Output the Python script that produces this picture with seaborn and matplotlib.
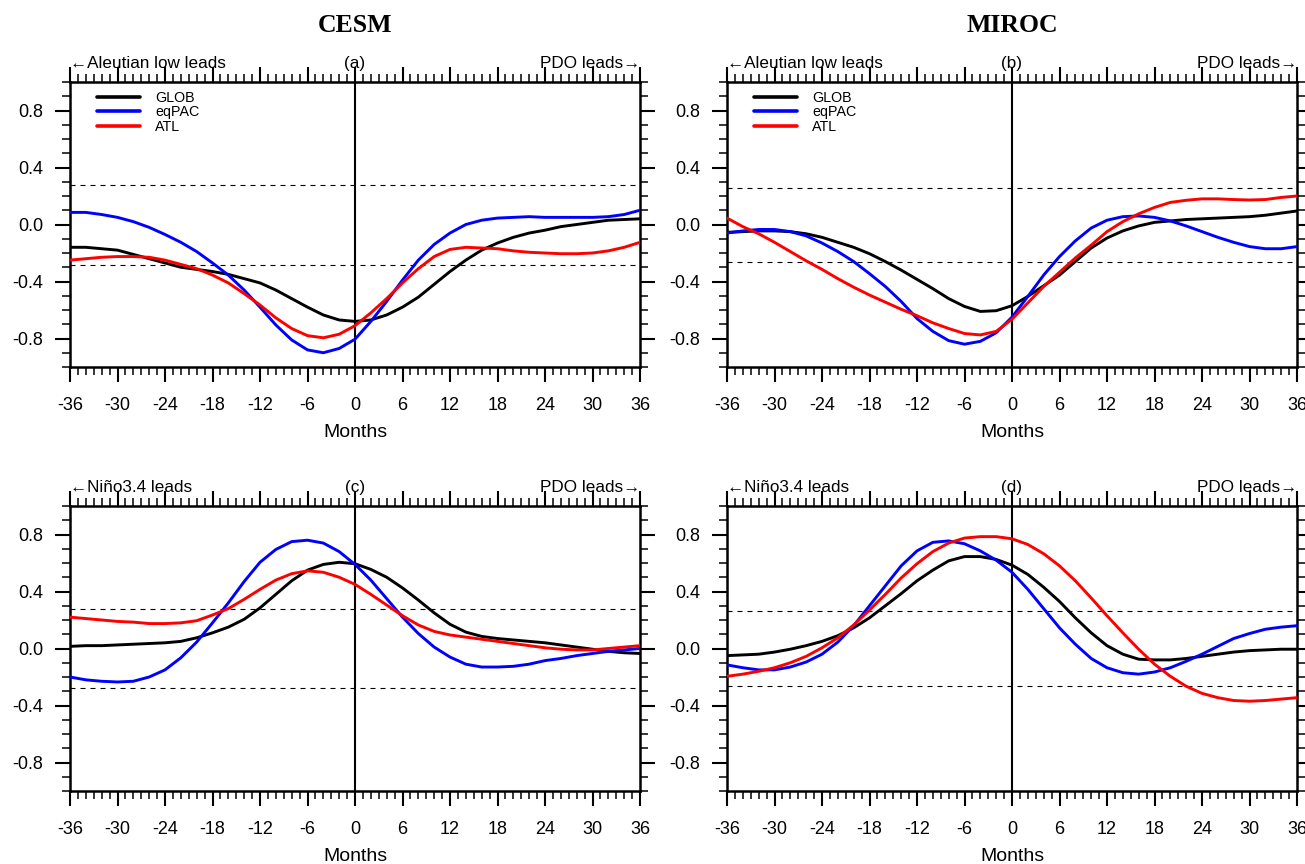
import matplotlib
matplotlib.use("Agg")
import matplotlib.pyplot as plt
import numpy as np
import pandas as pd
import seaborn as sns
from matplotlib.ticker import MultipleLocator, FormatStrFormatter

# ---------------- data ----------------
months = list(range(-36, 37, 2))
series_names = ["GLOB", "eqPAC", "ATL"]
series_colors = ["#000000", "#0000ff", "#ff0000"]

a_glob = [-0.16, -0.16, -0.17, -0.18, -0.21, -0.24, -0.27, -0.30, -0.315, -0.33, -0.35, -0.38, -0.41,
          -0.46, -0.52, -0.58, -0.635, -0.67, -0.68, -0.67, -0.635, -0.58, -0.51, -0.42, -0.33, -0.25,
          -0.18, -0.13, -0.09, -0.06, -0.04, -0.015, 0.0, 0.015, 0.03, 0.035, 0.04]
a_eqpac = [0.085, 0.085, 0.07, 0.05, 0.02, -0.02, -0.07, -0.125, -0.19, -0.27, -0.355, -0.46, -0.58,
           -0.705, -0.81, -0.88, -0.90, -0.87, -0.805, -0.68, -0.54, -0.39, -0.25, -0.14, -0.06, 0.0,
           0.03, 0.045, 0.05, 0.055, 0.05, 0.05, 0.05, 0.05, 0.055, 0.07, 0.1]
a_atl = [-0.25, -0.24, -0.23, -0.225, -0.225, -0.23, -0.25, -0.28, -0.31, -0.355, -0.41, -0.485, -0.565,
         -0.655, -0.73, -0.78, -0.795, -0.77, -0.71, -0.62, -0.52, -0.41, -0.31, -0.225, -0.175, -0.16,
         -0.165, -0.17, -0.185, -0.195, -0.2, -0.205, -0.205, -0.2, -0.185, -0.16, -0.125]

b_glob = [-0.055, -0.05, -0.045, -0.045, -0.05, -0.065, -0.09, -0.125, -0.16, -0.205, -0.26, -0.32, -0.385,
          -0.45, -0.52, -0.575, -0.61, -0.605, -0.57, -0.505, -0.43, -0.355, -0.26, -0.165, -0.095, -0.045,
          -0.01, 0.015, 0.025, 0.035, 0.04, 0.045, 0.05, 0.055, 0.065, 0.08, 0.095]
b_eqpac = [-0.06, -0.045, -0.035, -0.035, -0.05, -0.08, -0.13, -0.19, -0.26, -0.345, -0.435, -0.54, -0.66,
           -0.75, -0.815, -0.84, -0.82, -0.76, -0.65, -0.505, -0.355, -0.225, -0.115, -0.025, 0.03, 0.055,
           0.06, 0.05, 0.025, -0.01, -0.05, -0.09, -0.125, -0.155, -0.17, -0.17, -0.155]
b_atl = [0.045, -0.015, -0.065, -0.125, -0.19, -0.255, -0.315, -0.38, -0.44, -0.495, -0.545, -0.595, -0.64,
         -0.69, -0.73, -0.765, -0.775, -0.75, -0.665, -0.55, -0.435, -0.335, -0.235, -0.145, -0.05, 0.02,
         0.075, 0.12, 0.155, 0.17, 0.18, 0.18, 0.175, 0.172, 0.175, 0.19, 0.2]

c_glob = [0.015, 0.02, 0.02, 0.025, 0.03, 0.035, 0.04, 0.05, 0.075, 0.11, 0.15, 0.205, 0.285, 0.38, 0.475,
          0.55, 0.59, 0.605, 0.595, 0.555, 0.5, 0.425, 0.34, 0.25, 0.17, 0.115, 0.085, 0.07, 0.06, 0.05,
          0.04, 0.025, 0.01, -0.005, -0.02, -0.03, -0.035]
c_eqpac = [-0.2, -0.22, -0.23, -0.235, -0.23, -0.2, -0.15, -0.065, 0.045, 0.18, 0.32, 0.47, 0.605, 0.695,
           0.75, 0.76, 0.74, 0.68, 0.59, 0.48, 0.35, 0.22, 0.105, 0.01, -0.06, -0.11, -0.13, -0.13, -0.125,
           -0.11, -0.085, -0.07, -0.05, -0.035, -0.02, -0.01, 0.0]
c_atl = [0.22, 0.21, 0.2, 0.19, 0.185, 0.175, 0.175, 0.18, 0.195, 0.235, 0.28, 0.345, 0.415, 0.48, 0.525,
         0.545, 0.535, 0.5, 0.45, 0.38, 0.305, 0.23, 0.165, 0.12, 0.095, 0.08, 0.065, 0.05, 0.035, 0.02,
         0.005, -0.005, -0.01, -0.01, 0.0, 0.01, 0.02]

d_glob = [-0.05, -0.045, -0.04, -0.025, -0.005, 0.02, 0.05, 0.09, 0.145, 0.215, 0.3, 0.385, 0.475, 0.55,
          0.615, 0.645, 0.645, 0.625, 0.585, 0.52, 0.43, 0.33, 0.215, 0.11, 0.02, -0.04, -0.075, -0.08,
          -0.08, -0.07, -0.055, -0.04, -0.025, -0.015, -0.01, -0.005, -0.005]
d_eqpac = [-0.115, -0.135, -0.15, -0.15, -0.13, -0.095, -0.04, 0.045, 0.16, 0.3, 0.44, 0.58, 0.685, 0.745,
           0.755, 0.735, 0.685, 0.62, 0.535, 0.415, 0.28, 0.145, 0.03, -0.07, -0.135, -0.17, -0.18, -0.165,
           -0.135, -0.09, -0.04, 0.015, 0.07, 0.105, 0.135, 0.15, 0.16]
d_atl = [-0.195, -0.18, -0.16, -0.135, -0.1, -0.055, 0.005, 0.075, 0.165, 0.27, 0.38, 0.495, 0.595, 0.68,
         0.74, 0.775, 0.785, 0.785, 0.77, 0.73, 0.665, 0.58, 0.475, 0.355, 0.23, 0.11, -0.005, -0.11,
         -0.195, -0.265, -0.315, -0.345, -0.365, -0.37, -0.365, -0.355, -0.345]

sig_upper = [0.275, 0.255, 0.275, 0.26]
sig_lower = [-0.285, -0.265, -0.28, -0.265]

panel_tags = ["(a)", "(b)", "(c)", "(d)"]
left_labels = ["\u2190Aleutian low leads", "\u2190Aleutian low leads",
               "\u2190Ni\u00f1o3.4 leads", "\u2190Ni\u00f1o3.4 leads"]
right_label = "PDO leads\u2192"
column_titles = ["CESM", "MIROC"]
x_label = "Months"
x_ticks = list(range(-36, 37, 6))
y_ticks = [-0.8, -0.4, 0.0, 0.4, 0.8]

panel_data = [(a_glob, a_eqpac, a_atl), (b_glob, b_eqpac, b_atl),
              (c_glob, c_eqpac, c_atl), (d_glob, d_eqpac, d_atl)]

# ---------------- style ----------------
sns.set_theme(style="white")
plt.rcParams["font.family"] = ["Liberation Sans", "DejaVu Sans"]
plt.rcParams["axes.unicode_minus"] = False
plt.rcParams["lines.solid_joinstyle"] = "round"
plt.rcParams["text.color"] = "black"
plt.rcParams["axes.labelcolor"] = "black"
plt.rcParams["xtick.color"] = "black"
plt.rcParams["ytick.color"] = "black"

fig = plt.figure(figsize=(13.05, 8.64), dpi=100)
W, H = 1305.0, 864.0
ax_w = 570 / W
ax_h = 285 / H
lefts = [70 / W, 727 / W, 70 / W, 727 / W]
bottoms = [(H - 367) / H, (H - 367) / H, (H - 791) / H, (H - 791) / H]

for i in range(4):
    ax = fig.add_axes([lefts[i], bottoms[i], ax_w, ax_h])
    glob, eqpac, atl = panel_data[i]
    df = pd.DataFrame({
        "Months": months * 3,
        "r": glob + eqpac + atl,
        "series": [series_names[0]] * len(months) + [series_names[1]] * len(months) + [series_names[2]] * len(months),
    })
    # significance dashed lines
    ax.plot([months[0], months[-1]], [sig_upper[i]] * 2, color="black", lw=0.8,
            linestyle=(0, (4.5, 4.5)), zorder=1)
    ax.plot([months[0], months[-1]], [sig_lower[i]] * 2, color="black", lw=0.8,
            linestyle=(0, (4.5, 4.5)), zorder=1)
    ax.axvline(0, color="black", lw=1.5, zorder=1)
    sns.lineplot(data=df, x="Months", y="r", hue="series", hue_order=series_names,
                 palette=series_colors, linewidth=2.1, ax=ax, legend=(i < 2), zorder=3)

    ax.set_xlim(-36, 36)
    ax.set_ylim(-1, 1)
    ax.set_xticks(x_ticks)
    ax.set_xticklabels([str(t) for t in x_ticks])
    ax.set_yticks(y_ticks)
    ax.yaxis.set_major_formatter(FormatStrFormatter("%.1f"))
    ax.xaxis.set_minor_locator(MultipleLocator(1))
    ax.yaxis.set_minor_locator(MultipleLocator(0.1))
    ax.tick_params(which="both", direction="out", top=True, right=True, bottom=True, left=True,
                   labeltop=False, labelright=False, color="black", labelcolor="black")
    ax.tick_params(which="major", length=10.5, width=1.5, labelsize=13)
    ax.tick_params(which="minor", length=5.5, width=1.1)
    ax.tick_params(axis="x", which="major", pad=11)
    ax.tick_params(axis="y", which="major", pad=9)
    for s in ax.spines.values():
        s.set_linewidth(1.8)
        s.set_color("black")
    ax.set_xlabel(x_label, fontsize=14, labelpad=7, color="black")
    ax.set_ylabel("")
    ax.grid(False)

    ax.text(0.0, 1.05, left_labels[i], transform=ax.transAxes, ha="left", va="baseline",
            fontsize=12.3, color="black")
    ax.text(0.5, 1.05, panel_tags[i], transform=ax.transAxes, ha="center", va="baseline",
            fontsize=12.3, color="black")
    ax.text(1.0, 1.05, right_label, transform=ax.transAxes, ha="right", va="baseline",
            fontsize=12.3, color="black")

    if i < 2:
        leg = ax.legend(loc="upper left", bbox_to_anchor=(0.047, 0.968), frameon=False,
                        fontsize=10.3, handlelength=3.0, handletextpad=1.1, labelspacing=0.02,
                        borderpad=0, borderaxespad=0)
        for t in leg.get_texts():
            t.set_color("black")
        for ln in leg.get_lines():
            ln.set_linewidth(2.6)
        fig.text(lefts[i] + ax_w / 2, 1 - 25 / H, column_titles[i], ha="center", va="center",
                 fontsize=18.5, fontweight="bold", family="Liberation Serif", color="black")

fig.savefig("out.png", dpi=100)
